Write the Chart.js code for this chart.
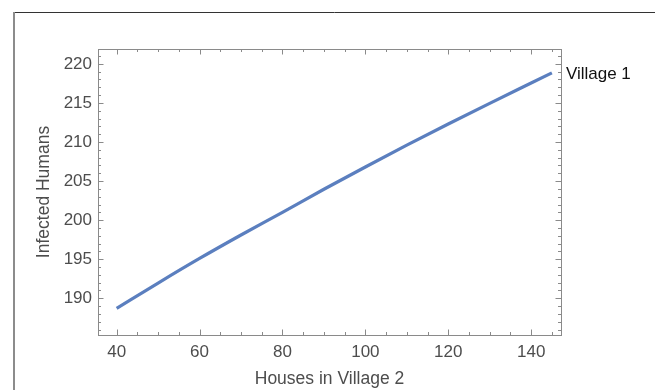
<!DOCTYPE html>
<html>
<head>
<meta charset="utf-8">
<title>Infected Humans vs Houses in Village 2</title>
<script src="https://cdn.jsdelivr.net/npm/chart.js@4.4.1/dist/chart.umd.min.js"></script>
<style>
  html, body { margin: 0; padding: 0; background: #fff; }
  #plot { display: block; }
</style>
</head>
<body>
<canvas id="plot" width="655" height="390"></canvas>
<script>
// data: houses in village 2 -> infected humans in village 1
const houses = [40, 50, 60, 70, 80, 90, 100, 110, 120, 130, 140, 145];
const infected = [188.7, 191.95, 195.1, 198.1, 201.0, 203.95, 206.8, 209.6, 212.3, 214.95, 217.55, 218.85];
const seriesName = 'Village 1';

// tick labels
const xTicks = [40, 60, 80, 100, 120, 140];
const yTicks = [190, 195, 200, 205, 210, 215, 220];

const FONT = '"Liberation Sans", Arial, Helvetica, sans-serif';
const FRAME = '#8a8a8a';
const TEXT = '#4d4d4d';
const LINE = '#5b7fbf';

// frame with inward ticks on all four sides (mathematica look)
const framePlugin = {
  id: 'frame',
  beforeDraw(chart) {
    const ctx = chart.ctx;
    ctx.save();
    // outer border of the figure
    ctx.strokeStyle = '#333';
    ctx.lineWidth = 1;
    ctx.beginPath();
    ctx.moveTo(14, 12.5);
    ctx.lineTo(655, 12.5);
    ctx.stroke();
    ctx.strokeStyle = '#8c8c8c';
    ctx.lineWidth = 2;
    ctx.beginPath();
    ctx.moveTo(14, 12);
    ctx.lineTo(14, 390);
    ctx.stroke();
    ctx.restore();
  },
  afterDatasetsDraw(chart) {
    const { ctx, chartArea: a, scales: { x, y } } = chart;
    ctx.save();
    ctx.strokeStyle = FRAME;
    ctx.lineWidth = 1;
    ctx.strokeRect(Math.round(a.left) + 0.5, Math.round(a.top) + 0.5,
      Math.round(a.right - a.left), Math.round(a.bottom - a.top));

    ctx.beginPath();
    // x ticks, major every 20, minor every 5
    for (let v = Math.ceil(x.min / 5) * 5; v <= x.max; v += 5) {
      const px = Math.round(x.getPixelForValue(v)) + 0.5;
      const len = v % 20 === 0 ? 5.5 : 3;
      ctx.moveTo(px, a.bottom); ctx.lineTo(px, a.bottom - len);
      ctx.moveTo(px, a.top); ctx.lineTo(px, a.top + len);
    }
    // y ticks, major every 5, minor every 1
    for (let v = Math.ceil(y.min); v <= y.max; v += 1) {
      const py = Math.round(y.getPixelForValue(v)) + 0.5;
      const len = v % 5 === 0 ? 5.5 : 3;
      ctx.moveTo(a.left, py); ctx.lineTo(a.left + len, py);
      ctx.moveTo(a.right, py); ctx.lineTo(a.right - len, py);
    }
    ctx.stroke();

    // series label next to the end of the curve
    const pts = chart.getDatasetMeta(0).data;
    const last = pts[pts.length - 1];
    ctx.fillStyle = '#111';
    ctx.font = '17px ' + FONT;
    ctx.textAlign = 'left';
    ctx.textBaseline = 'middle';
    ctx.fillText(seriesName, last.x + 14, last.y + 1);
    ctx.restore();
  }
};

new Chart(document.getElementById('plot'), {
  type: 'line',
  data: {
    datasets: [{
      label: seriesName,
      data: houses.map((h, i) => ({ x: h, y: infected[i] })),
      borderColor: LINE,
      borderWidth: 3.2,
      pointRadius: 0,
      cubicInterpolationMode: 'monotone',
      fill: false
    }]
  },
  options: {
    responsive: false,
    devicePixelRatio: 1,
    animation: false,
    layout: { padding: { top: 49, right: 94, left: 0, bottom: 0 } },
    plugins: {
      legend: { display: false },
      tooltip: { enabled: false }
    },
    scales: {
      x: {
        type: 'linear',
        min: 35.5,
        max: 147.2,
        afterBuildTicks: s => { s.ticks = xTicks.map(v => ({ value: v })); },
        afterFit: s => { s.height = 55; },
        grid: { display: false, drawTicks: false, tickLength: 0 },
        border: { display: false },
        ticks: {
          color: TEXT,
          font: { size: 17, family: FONT },
          padding: 7,
          maxRotation: 0,
          autoSkip: false
        },
        title: {
          display: true,
          text: 'Houses in Village 2',
          color: TEXT,
          font: { size: 17.5, family: FONT },
          padding: { top: 0, bottom: 0 }
        }
      },
      y: {
        type: 'linear',
        min: 185.3,
        max: 221.9,
        afterBuildTicks: s => { s.ticks = yTicks.map(v => ({ value: v })); },
        afterFit: s => { s.width = 98; },
        grid: { display: false, drawTicks: false, tickLength: 0 },
        border: { display: false },
        ticks: {
          color: TEXT,
          font: { size: 17, family: FONT },
          padding: 6,
          autoSkip: false
        },
        title: {
          display: true,
          text: 'Infected Humans',
          color: TEXT,
          font: { size: 17.5, family: FONT },
          padding: { top: 34, bottom: 0 }
        }
      }
    }
  },
  plugins: [framePlugin]
});
</script>
</body>
</html>
